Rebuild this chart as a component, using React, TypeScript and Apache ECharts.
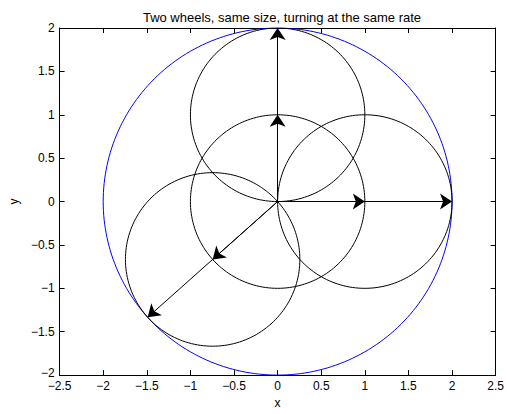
import React, { useEffect, useRef } from "react";
import * as echarts from "echarts";

const titleText = "Two wheels, same size, turning at the same rate";
const xTicks = [-2.5, -2, -1.5, -1, -0.5, 0, 0.5, 1, 1.5, 2, 2.5];
const yTicks = [-2, -1.5, -1, -0.5, 0, 0.5, 1, 1.5, 2];
const outerCircle = { cx: 0, cy: 0, r: 2 };
const wheelCenters: [number, number][] = [
  [0, 0],
  [0, 1],
  [1, 0],
  [-0.745, -0.667],
];
const wheelRadius = 1;
const arrowTips: [number, number][] = [
  [0, 1],
  [0, 2],
  [1, 0],
  [2, 0],
  [-0.745, -0.667],
  [-1.49, -1.334],
];

function circlePoints(cx: number, cy: number, r: number, n = 180): number[][] {
  const pts: number[][] = [];
  for (let i = 0; i <= n; i++) {
    const t = (i / n) * Math.PI * 2;
    pts.push([cx + r * Math.cos(t), cy + r * Math.sin(t)]);
  }
  return pts;
}

const fmt = (v: number) => String(v).replace("-", "\u2212");
const FONT = "Liberation Sans";

export default function App() {
  const ref = useRef<HTMLDivElement>(null);
  useEffect(() => {
    if (!ref.current) return;
    const chart = echarts.init(ref.current, undefined, { renderer: "svg" });
    const axisCommon = {
      type: "value" as const,
      interval: 0.5,
      axisLine: { show: true, onZero: false, lineStyle: { color: "#000", width: 1 } },
      axisTick: { show: true, inside: true, length: 5, lineStyle: { color: "#000" } },
      splitLine: { show: false },
    };
    const series: any[] = [];
    const oc = circlePoints(outerCircle.cx, outerCircle.cy, outerCircle.r, 240);
    series.push({
      type: "line",
      data: oc,
      showSymbol: false,
      symbol: "none",
      lineStyle: { color: "#0000ff", width: 1 },
      silent: true,
    });
    wheelCenters.forEach(([cx, cy]) => {
      series.push({
        type: "line",
        data: circlePoints(cx, cy, wheelRadius, 180),
        showSymbol: false,
        symbol: "none",
        lineStyle: { color: "#000", width: 1 },
        silent: true,
      });
    });
    series.push({
      type: "lines",
      coordinateSystem: "cartesian2d",
      symbol: ["none", "arrow"],
      symbolSize: 12,
      lineStyle: { color: "#000", width: 1, opacity: 1 },
      itemStyle: { color: "#000" },
      data: arrowTips.map((p) => ({ coords: [[0, 0], p] })),
      silent: true,
    });
    chart.setOption({
      animation: false,
      title: {
        text: titleText,
        left: 277,
        textAlign: "center",
        top: 6,
        textStyle: { fontFamily: FONT, fontSize: 13, fontWeight: "normal", color: "#000" },
      },
      grid: { left: 54, right: 7, top: 28, bottom: 34 },
      xAxis: [
        {
          ...axisCommon,
          position: "bottom",
          min: -2.5,
          max: 2.5,
          name: "x",
          nameLocation: "middle",
          nameGap: 22,
          nameTextStyle: { fontFamily: FONT, fontSize: 12, color: "#000", lineHeight: 10 },
          axisLabel: {
            fontFamily: FONT,
            fontSize: 12,
            lineHeight: 10,
            color: "#000",
            margin: 6,
            formatter: (v: number) => (xTicks.includes(v) ? fmt(v) : ""),
          },
        },
        {
          ...axisCommon,
          position: "top",
          min: -2.5,
          max: 2.5,
          axisLabel: { show: false },
        },
      ],
      yAxis: [
        {
          ...axisCommon,
          position: "left",
          min: -2,
          max: 2,
          name: "y",
          nameLocation: "middle",
          nameGap: 38,
          nameTextStyle: { fontFamily: FONT, fontSize: 12, color: "#000" },
          axisLabel: {
            fontFamily: FONT,
            fontSize: 12,
            lineHeight: 10,
            color: "#000",
            margin: 5,
            formatter: (v: number) =>
              yTicks.includes(v) ? (v === yTicks[0] ? "{lo|" + fmt(v) + "}" : fmt(v)) : "",
            rich: {
              lo: {
                fontFamily: FONT,
                fontSize: 12,
                lineHeight: 10,
                color: "#000",
                padding: [0, 0, 4, 0],
              },
            },
          },
        },
        {
          ...axisCommon,
          position: "right",
          min: -2,
          max: 2,
          axisLabel: { show: false },
        },
      ],
      series,
    });
    return () => chart.dispose();
  }, []);
  return (
    <div
      ref={ref}
      style={{ position: "fixed", left: 0, top: 0, width: 507, height: 414, background: "#fff" }}
    />
  );
}
